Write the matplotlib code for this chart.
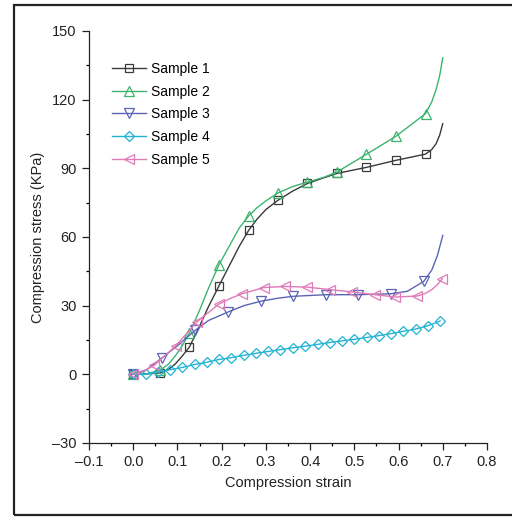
import matplotlib
matplotlib.use("Agg")
import matplotlib.pyplot as plt
from matplotlib.patches import Rectangle

plt.rcParams['font.family'] = ['Liberation Sans', 'DejaVu Sans']

# ---- data ----
s1_x = [0.0, 0.03, 0.061, 0.08, 0.095, 0.11, 0.127, 0.15, 0.17, 0.194, 0.22, 0.24, 0.261, 0.28, 0.3, 0.327, 0.36, 0.394, 0.43, 0.461, 0.527, 0.594, 0.661, 0.675, 0.685, 0.693, 0.7]
s1_y = [0.0, 0.2, 0.6, 2.2, 4.5, 7.8, 11.9, 21.0, 29.5, 38.7, 48.5, 56.0, 62.9, 67.8, 72.0, 76.0, 80.0, 83.4, 85.8, 87.8, 90.4, 93.5, 96.2, 98.2, 100.8, 104.5, 109.5]
s1_m = [0, 2, 6, 9, 12, 15, 17, 19, 20, 21, 22]

s2_x = [0.0, 0.03, 0.061, 0.08, 0.095, 0.11, 0.127, 0.15, 0.17, 0.194, 0.22, 0.24, 0.261, 0.28, 0.3, 0.327, 0.36, 0.394, 0.43, 0.461, 0.527, 0.594, 0.661, 0.675, 0.685, 0.693, 0.7]
s2_y = [0.0, 0.2, 1.8, 4.5, 8.0, 12.2, 18.0, 28.0, 37.5, 47.9, 57.0, 64.0, 69.2, 72.8, 75.8, 79.2, 82.0, 84.0, 86.0, 88.4, 96.1, 104.0, 113.9, 119.0, 124.5, 130.5, 138.3]
s2_m = [0, 2, 6, 9, 12, 15, 17, 19, 20, 21, 22]

s3_x = [0.0, 0.03, 0.066, 0.1, 0.14, 0.17, 0.214, 0.25, 0.288, 0.325, 0.362, 0.436, 0.509, 0.583, 0.62, 0.657, 0.675, 0.688, 0.7]
s3_y = [0.0, 2.0, 7.3, 12.5, 19.2, 23.5, 27.2, 30.0, 31.9, 33.2, 34.1, 34.8, 34.8, 35.2, 36.3, 40.6, 45.5, 52.0, 60.7]
s3_m = [0, 2, 4, 6, 8, 10, 11, 12, 13, 15]

s4_x = [0.0, 0.028, 0.056, 0.083, 0.111, 0.139, 0.167, 0.194, 0.222, 0.25, 0.278, 0.305, 0.333, 0.361, 0.389, 0.417, 0.444, 0.472, 0.5, 0.528, 0.555, 0.583, 0.611, 0.639, 0.666, 0.694]
s4_y = [0.0, 0.0, 1.0, 2.0, 3.0, 4.3, 5.3, 6.5, 7.3, 8.3, 9.2, 10.0, 10.8, 11.6, 12.3, 13.1, 13.9, 14.6, 15.3, 16.1, 16.9, 17.8, 18.8, 19.8, 21.2, 23.3]

s5_x = [0.0, 0.02, 0.048, 0.096, 0.144, 0.193, 0.22, 0.246, 0.295, 0.344, 0.393, 0.446, 0.495, 0.546, 0.593, 0.642, 0.66, 0.675, 0.688, 0.699]
s5_y = [0.0, 1.0, 4.0, 12.4, 22.9, 30.6, 33.2, 35.2, 37.9, 38.4, 38.1, 37.0, 36.0, 34.8, 33.8, 34.2, 35.3, 37.0, 39.2, 41.8]
s5_m = [0, 2, 3, 4, 5, 7, 8, 9, 10, 11, 12, 13, 14, 15, 19]

labels = ["Sample 1", "Sample 2", "Sample 3", "Sample 4", "Sample 5"]
colors = ["#3a3a3a", "#3cb46e", "#5a64b4", "#22b4d2", "#e07ab8"]
markers = ["s", "^", "v", "D", "<"]
msizes = [5.5, 7, 7, 5.5, 7]

x_ticks = [-0.1, 0.0, 0.1, 0.2, 0.3, 0.4, 0.5, 0.6, 0.7, 0.8]
x_ticklabels = ["–0.1", "0.0", "0.1", "0.2", "0.3", "0.4", "0.5", "0.6", "0.7", "0.8"]
y_ticks = [-30, 0, 30, 60, 90, 120, 150]
y_ticklabels = ["–30", "0", "30", "60", "90", "120", "150"]

# ---- figure ----
fig = plt.figure(figsize=(5.12, 5.18), dpi=100)
ax = fig.add_axes([89/512, 75/518, 398/512, 412/518])

series = [(s1_x, s1_y, s1_m), (s2_x, s2_y, s2_m), (s3_x, s3_y, s3_m),
          (s4_x, s4_y, None), (s5_x, s5_y, s5_m)]
for (xs, ys, mk), lab, c, m, ms in zip(series, labels, colors, markers, msizes):
    ax.plot(xs, ys, color=c, lw=1.0, marker=m, ms=ms, mfc='none', mec=c,
            mew=0.9, markevery=mk, label=lab, clip_on=False)

ax.set_xlim(-0.1, 0.8)
ax.set_ylim(-30, 150)
ax.set_xticks(x_ticks)
ax.set_xticklabels(x_ticklabels)
ax.set_yticks(y_ticks)
ax.set_yticklabels(y_ticklabels)
ax.set_xticks([-0.05 + 0.1 * i for i in range(9)], minor=True)
ax.set_yticks([-15 + 30 * i for i in range(6)], minor=True)
ax.tick_params(which='major', direction='out', length=5, width=0.9, labelsize=10.5, pad=4, colors='#222222')
ax.tick_params(which='minor', direction='out', length=2.5, width=0.9)
for sp in ['top', 'right']:
    ax.spines[sp].set_visible(False)
for sp in ['left', 'bottom']:
    ax.spines[sp].set_linewidth(0.9)
    ax.spines[sp].set_color('#222222')

ax.set_xlabel("Compression strain", fontsize=10.5, labelpad=5, color='#222222')
ax.set_ylabel("Compression stress (KPa)", fontsize=10.5, labelpad=5, color='#222222')

leg = ax.legend(loc='upper left', bbox_to_anchor=(0.045, 0.938), frameon=False,
                fontsize=10, handlelength=2.4, handletextpad=0.35, labelspacing=0.62,
                borderaxespad=0)

fig.patches.append(Rectangle((14/512, 3/518), 1.2, 510/518, transform=fig.transFigure,
                             fill=False, edgecolor='#222222', lw=1.6))

fig.savefig("out.png", dpi=100)
